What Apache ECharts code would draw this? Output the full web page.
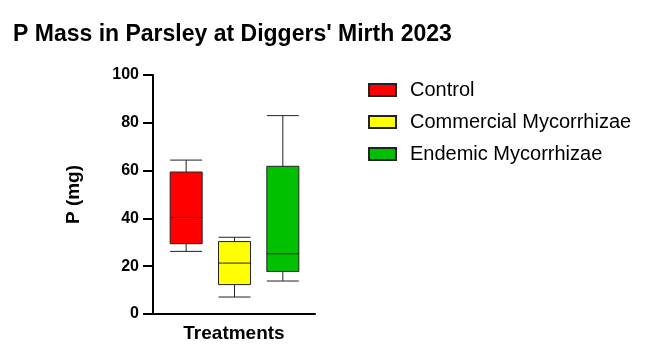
<!DOCTYPE html>
<html>
<head>
<meta charset="utf-8">
<script src="https://cdn.jsdelivr.net/npm/echarts@6/dist/echarts.min.js"></script>
<style>
  html, body { margin: 0; padding: 0; background: #fff; }
  #chart { width: 666px; height: 353px; }
</style>
</head>
<body>
<div id="chart"></div>
<script>
// treatments and their box stats: [min, Q1, median, Q3, max]
var treatments = ['Control', 'Commercial Mycorrhizae', 'Endemic Mycorrhizae']
var colors = ['#ff0000', '#ffff00', '#00c000']
var controlBox = [26.2, 29.4, 40.4, 59.4, 64.4]
var commercialBox = [7.1, 12.3, 21.3, 30.3, 32.1]
var endemicBox = [13.8, 17.8, 25.2, 61.8, 83.0]
var yTicks = [0, 20, 40, 60, 80, 100]

var boxes = [controlBox, commercialBox, endemicBox]
var font = 'Liberation Sans, Arial, sans-serif'

var chart = echarts.init(document.getElementById('chart'))

var boxData = boxes.map(function (b, i) {
  return {
    value: b,
    itemStyle: { color: colors[i], borderColor: '#222', borderWidth: 1 }
  }
})

// dummy series so the legend gets a swatch per treatment
var legendSeries = treatments.map(function (name, i) {
  return {
    name: name,
    type: 'bar',
    xAxisIndex: 0,
    yAxisIndex: 0,
    data: [],
    itemStyle: { color: colors[i], borderColor: '#222', borderWidth: 1 }
  }
})

var option = {
  animation: false,
  textStyle: { fontFamily: font },
  title: {
    text: "P Mass in Parsley at Diggers' Mirth 2023",
    left: 8,
    top: 18,
    textStyle: { fontSize: 23, fontWeight: 'bold', color: '#000', fontFamily: font }
  },
  legend: {
    orient: 'vertical',
    left: 363,
    top: 75,
    itemWidth: 27,
    itemHeight: 12,
    itemGap: 12,
    icon: 'rect',
    data: treatments,
    textStyle: { fontSize: 20, color: '#000', fontFamily: font, padding: [0, 0, 0, 9] }
  },
  grid: [
    { left: 162, width: 145, top: 75, height: 239 },
    { left: 153, width: 162, top: 75, height: 239 }
  ],
  xAxis: [
    {
      gridIndex: 0, type: 'category', data: treatments,
      show: false
    },
    {
      gridIndex: 1, type: 'value', min: 0, max: 1,
      name: 'Treatments', nameLocation: 'middle', nameGap: 10,
      nameTextStyle: { fontSize: 19, fontWeight: 'bold', color: '#000', fontFamily: font },
      axisLine: { lineStyle: { color: '#000', width: 2 } },
      axisTick: { show: false },
      axisLabel: { show: false },
      splitLine: { show: false }
    }
  ],
  yAxis: [
    {
      gridIndex: 0, type: 'value', min: 0, max: 100, interval: 20,
      show: false
    },
    {
      gridIndex: 1, type: 'value', min: yTicks[0], max: yTicks[yTicks.length - 1], interval: 20,
      name: 'P (mg)', nameLocation: 'middle', nameGap: 70, nameRotate: 90,
      nameTextStyle: { fontSize: 19, fontWeight: 'bold', color: '#000', fontFamily: font },
      axisLine: { show: true, lineStyle: { color: '#000', width: 2 } },
      axisTick: { show: true, length: 10, lineStyle: { color: '#000', width: 2 } },
      axisLabel: { margin: 14, fontSize: 16, fontWeight: 'bold', color: '#000', fontFamily: font },
      splitLine: { show: false }
    }
  ],
  series: [
    {
      type: 'boxplot',
      xAxisIndex: 0,
      yAxisIndex: 0,
      boxWidth: [32, 32],
      data: boxData,
      itemStyle: { borderColor: '#222', borderWidth: 1 }
    }
  ].concat(legendSeries)
}

chart.setOption(option)
</script>
</body>
</html>
